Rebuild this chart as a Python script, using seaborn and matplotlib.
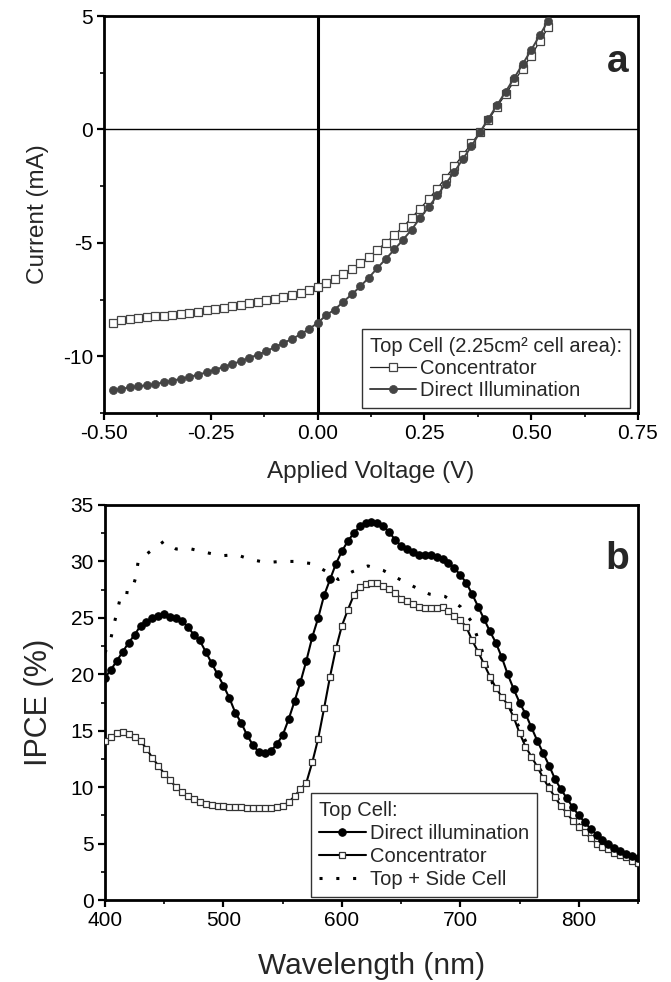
import numpy as np
import pandas as pd
import seaborn as sns
import matplotlib.pyplot as plt
from matplotlib.ticker import MultipleLocator

# ---- panel a: I-V curves (top cell) ----
voltage = np.round(np.arange(-0.48, 0.541, 0.02), 2)
iv_concentrator = [
    -8.53, -8.41, -8.35, -8.31, -8.26, -8.24, -8.21, -8.16, -8.12, -8.08,
    -8.03, -7.97, -7.91, -7.85, -7.79, -7.73, -7.67, -7.61, -7.54, -7.46,
    -7.38, -7.29, -7.19, -7.08, -6.95, -6.77, -6.58, -6.36, -6.14, -5.89,
    -5.62, -5.30, -4.99, -4.64, -4.30, -3.89, -3.49, -3.07, -2.61, -2.12,
    -1.62, -1.12, -0.62, -0.12, 0.42, 1.00, 1.55, 2.12, 2.68, 3.25,
    3.88, 4.50,
]
iv_direct = [
    -11.50, -11.44, -11.37, -11.32, -11.28, -11.22, -11.15, -11.07, -11.00, -10.91,
    -10.81, -10.71, -10.59, -10.47, -10.34, -10.22, -10.07, -9.93, -9.78, -9.59,
    -9.41, -9.24, -9.03, -8.80, -8.53, -8.19, -7.94, -7.60, -7.27, -6.92,
    -6.53, -6.11, -5.70, -5.29, -4.86, -4.42, -3.90, -3.42, -2.91, -2.39,
    -1.88, -1.30, -0.75, -0.12, 0.48, 1.07, 1.66, 2.26, 2.88, 3.50,
    4.15, 4.80,
]

# ---- panel b: IPCE spectra ----
wavelength = np.arange(400, 851, 5)
ipce_direct = [
    19.7, 20.4, 21.2, 22.0, 22.8, 23.5, 24.3, 24.6, 25.0, 25.2,
    25.3, 25.1, 25.0, 24.7, 24.2, 23.5, 23.0, 22.0, 21.0, 20.0,
    19.0, 17.9, 16.6, 15.7, 14.6, 13.7, 13.1, 13.0, 13.2, 13.8,
    14.6, 16.0, 17.6, 19.3, 21.2, 23.3, 25.0, 27.0, 28.4, 29.8,
    30.9, 31.8, 32.5, 33.1, 33.4, 33.5, 33.4, 33.1, 32.6, 31.9,
    31.4, 31.1, 30.8, 30.6, 30.6, 30.6, 30.4, 30.2, 29.9, 29.4,
    28.8, 28.1, 27.1, 26.0, 24.9, 23.8, 22.8, 21.5, 20.0, 18.7,
    17.5, 16.5, 15.3, 14.1, 13.0, 11.9, 10.7, 9.8, 9.0, 8.2,
    7.5, 6.9, 6.3, 5.8, 5.3, 5.0, 4.6, 4.3, 4.1, 3.9,
    3.7,
]
ipce_concentrator = [
    14.1, 14.4, 14.8, 14.9, 14.7, 14.4, 14.1, 13.4, 12.6, 11.9,
    11.2, 10.6, 10.0, 9.6, 9.2, 8.95, 8.7, 8.55, 8.4, 8.35,
    8.3, 8.25, 8.2, 8.2, 8.17, 8.15, 8.15, 8.15, 8.15, 8.2,
    8.35, 8.65, 9.2, 9.8, 10.4, 12.2, 14.3, 17.0, 19.8, 22.3,
    24.3, 25.7, 27.0, 27.7, 28.0, 28.1, 28.1, 27.8, 27.6, 27.2,
    26.7, 26.5, 26.2, 26.0, 25.9, 25.9, 25.9, 26.0, 25.6, 25.2,
    24.8, 24.2, 23.0, 22.0, 20.9, 19.8, 18.8, 18.0, 17.3, 16.2,
    14.8, 13.6, 12.7, 11.8, 10.8, 9.9, 9.1, 8.3, 7.7, 7.0,
    6.5, 6.0, 5.5, 5.0, 4.7, 4.5, 4.2, 4.0, 3.8, 3.5,
    3.3,
]
side_wl = [400, 405, 408, 411, 414, 422, 426, 428, 437, 450, 460, 473, 485, 498,
           511, 522, 536, 549, 560, 575, 587, 597, 609, 622, 635, 649, 662, 674,
           687, 700, 710, 720, 728, 740, 750, 760, 770, 780, 790, 800, 810, 820,
           830, 840, 850]
side_ipce = [21.9, 23.2, 24.6, 25.9, 27.3, 27.2, 28.6, 30.0, 30.8, 31.8, 31.1, 31.1,
             30.8, 30.5, 30.6, 30.2, 29.9, 30.0, 30.0, 29.8, 29.1, 28.4, 29.1, 29.6,
             29.2, 28.4, 27.7, 27.1, 26.9, 26.0, 24.6, 21.6, 18.9, 17.5, 15.2, 13.0,
             11.1, 9.3, 7.9, 6.7, 5.7, 4.9, 4.4, 3.9, 3.5]

sns.set_style("ticks")
plt.rcParams['font.family'] = ['Liberation Sans', 'DejaVu Sans']
plt.rcParams['axes.linewidth'] = 2.0
plt.rcParams['legend.fontsize'] = 14.5

fig = plt.figure(figsize=(6.71, 9.82), dpi=100)
ax_a = fig.add_axes([104 / 671, 1 - 413 / 982, 534 / 671, 397 / 982])
ax_b = fig.add_axes([105 / 671, 1 - 900 / 982, 533 / 671, 395 / 982])


def style_axis(ax):
    for s in ax.spines.values():
        s.set_linewidth(2.0)
        s.set_color('black')
    ax.tick_params(which='major', direction='out', length=5, width=1.6,
                   labelsize=15, pad=3, colors='black')
    ax.tick_params(which='minor', direction='out', length=3.2, width=1.4)


def style_legend(leg):
    leg.get_title().set_fontsize(14.5)
    leg.get_frame().set_linewidth(1.0)


# ---- panel a ----
iv = pd.DataFrame({'V': voltage, 'conc': iv_concentrator, 'direct': iv_direct})
ax_a.axhline(0, color='black', lw=1.0, zorder=1)
ax_a.axvline(0, color='black', lw=2.2, zorder=1)
sns.lineplot(data=iv, x='V', y='conc', ax=ax_a, color='#222222', lw=0.9,
             marker='s', markersize=5.2, markerfacecolor='white',
             markeredgecolor='#444444', markeredgewidth=0.9,
             label='Concentrator', zorder=3)
sns.lineplot(data=iv, x='V', y='direct', ax=ax_a, color='#444444', lw=1.4,
             marker='o', markersize=5.8, markerfacecolor='#444444',
             markeredgecolor='#444444', markeredgewidth=0.5,
             label='Direct Illumination', zorder=4)
ax_a.set_xlim(-0.5, 0.75)
ax_a.set_ylim(-12.5, 5)
ax_a.xaxis.set_minor_locator(MultipleLocator(0.125))
ax_a.yaxis.set_minor_locator(MultipleLocator(2.5))
ax_a.set_xticks([-0.5, -0.25, 0, 0.25, 0.5, 0.75])
ax_a.set_xticklabels(['-0.50', '-0.25', '0.00', '0.25', '0.50', '0.75'])
ax_a.set_yticks([5, 0, -5, -10])
ax_a.set_yticklabels(['5', '0', '-5', '-10'])
ax_a.set_xlabel('Applied Voltage (V)', fontsize=17.5, labelpad=13)
ax_a.set_ylabel('Current (mA)', fontsize=17.5, labelpad=10)
style_axis(ax_a)
leg_a = ax_a.legend(title='Top Cell (2.25cm² cell area):', loc='lower right',
                    bbox_to_anchor=(0.985, 0.013), alignment='left',
                    frameon=True, fancybox=False, edgecolor='black',
                    handlelength=2.3, handletextpad=0.2, labelspacing=0.15,
                    borderpad=0.4, borderaxespad=0)
style_legend(leg_a)
ax_a.text(0.983, 0.93, 'a', transform=ax_a.transAxes, ha='right', va='top',
          fontsize=28, fontweight='bold')

# ---- panel b ----
spec = pd.DataFrame({'wl': wavelength, 'direct': ipce_direct,
                     'conc': ipce_concentrator})
side = pd.DataFrame({'wl': side_wl, 'ipce': side_ipce})
sns.lineplot(data=spec, x='wl', y='direct', ax=ax_b, color='black', lw=1.5,
             marker='o', markersize=5.4, markerfacecolor='black',
             markeredgecolor='black', label='Direct illumination', zorder=4)
sns.lineplot(data=spec, x='wl', y='conc', ax=ax_b, color='black', lw=1.5,
             marker='s', markersize=4.8, markerfacecolor='white',
             markeredgecolor='#333333', markeredgewidth=0.9,
             label='Concentrator', zorder=3)
sns.lineplot(data=side, x='wl', y='ipce', ax=ax_b, color='black', lw=2.2,
             linestyle=(0, (1, 4.5)), label='Top + Side Cell', zorder=2)
ax_b.set_xlim(400, 850)
ax_b.set_ylim(0, 35)
ax_b.xaxis.set_major_locator(MultipleLocator(100))
ax_b.xaxis.set_minor_locator(MultipleLocator(50))
ax_b.yaxis.set_major_locator(MultipleLocator(5))
ax_b.yaxis.set_minor_locator(MultipleLocator(2.5))
ax_b.set_xlabel('Wavelength (nm)', fontsize=21.5, labelpad=16)
ax_b.set_ylabel('IPCE (%)', fontsize=22, labelpad=12)
style_axis(ax_b)
leg_b = ax_b.legend(title='Top Cell:', loc='lower left',
                    bbox_to_anchor=(0.387, 0.008), alignment='left',
                    frameon=True, fancybox=False, edgecolor='black',
                    handlelength=2.3, handletextpad=0.2, labelspacing=0.2,
                    borderpad=0.4, borderaxespad=0)
style_legend(leg_b)
ax_b.text(0.983, 0.91, 'b', transform=ax_b.transAxes, ha='right', va='top',
          fontsize=28, fontweight='bold')

fig.savefig('out.png', dpi=100)
